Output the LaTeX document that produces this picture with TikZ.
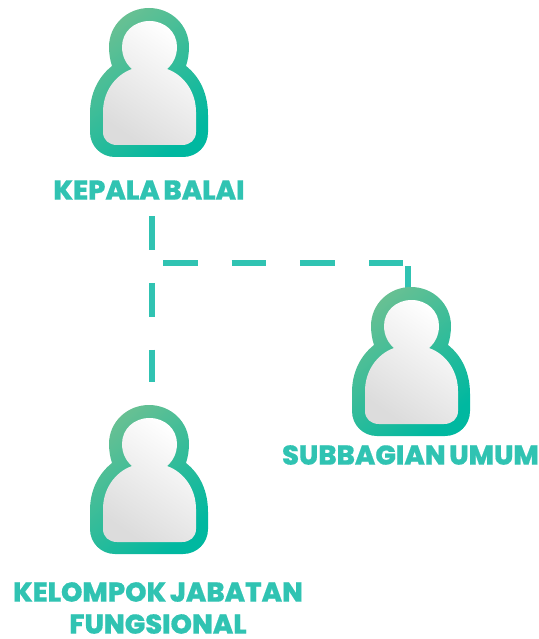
\documentclass[tikz,border=0pt]{standalone}
\usepackage{fontspec}
\setmainfont{Poppins}[BoldFont={Poppins ExtraBold},BoldFeatures={FakeBold=0.5},WordSpace=0.7]
\definecolor{teal1}{HTML}{30C3B2}
\definecolor{greenA}{HTML}{68C093}
\definecolor{tealB}{HTML}{00B8A0}
\definecolor{greyA}{HTML}{DCDCDC}
\tikzset{
  lbl/.style={text=teal1,font=\bfseries\fontsize{27.2}{32}\selectfont,inner sep=0pt,align=center},
  conn/.style={draw=teal1,line width=5.5pt},
  person/.pic={
    \shade[top color=greenA,bottom color=tealB,shading angle=40]
      (112,66) .. controls (110,60) and (109,53) .. (109,47)
      .. controls (109,25) and (127,8) .. (149,8)
      .. controls (171,8) and (189,25) .. (189,47)
      .. controls (189,53) and (188,60) .. (186,66)
      .. controls (200,77) and (208,94) .. (208,115)
      -- (208,132) .. controls (208,146) and (197,157) .. (183,157)
      -- (115,157) .. controls (101,157) and (90,146) .. (90,132)
      -- (90,113) .. controls (90,94) and (98,77) .. (112,66) -- cycle;
    \shade[top color=white,bottom color=greyA,shading angle=-35]
      (132,69) .. controls (126,64) and (122,56) .. (122,47)
      .. controls (122,32) and (134,21) .. (149.5,21)
      .. controls (165,21) and (177,32) .. (177,47)
      .. controls (177,56) and (173,64) .. (167,69)
      .. controls (184,75) and (196,92) .. (196,112)
      -- (196,132) .. controls (196,140) and (190,145) .. (182,145)
      -- (117,145) .. controls (109,145) and (103,140) .. (103,132)
      -- (103,112) .. controls (103,92) and (115,75) .. (132,69) -- cycle;
  }
}
\begin{document}
\begin{tikzpicture}[x=1pt,y=-1pt]
\useasboundingbox (0,0) rectangle (538,639);
\coordinate (v1) at (152,216);
\coordinate (v2) at (152,382);
\coordinate (h1) at (163,263);
\coordinate (h2) at (403,263);
\coordinate (s1) at (408,266);
\coordinate (s2) at (408,290);
\draw[conn,dash pattern=on 34pt off 32.8pt] (v1) -- (v2);
\draw[conn,dash pattern=on 34.5pt off 34.2pt] (h1) -- (h2);
\draw[conn] (s1) -- (s2);
\pic (kepala) at (0,0) {person};
\pic (umum) at (262,279) {person};
\pic (fungsi) at (0,397) {person};
\node[lbl] (tkepala) at (149,190) {KEPALA BALAI};
\node[lbl] (tumum) at (410.5,455) {SUBBAGIAN UMUM};
\node[lbl] (tfungsi) at (158,608) {KELOMPOK JABATAN\\FUNGSIONAL};
\end{tikzpicture}
\end{document}
